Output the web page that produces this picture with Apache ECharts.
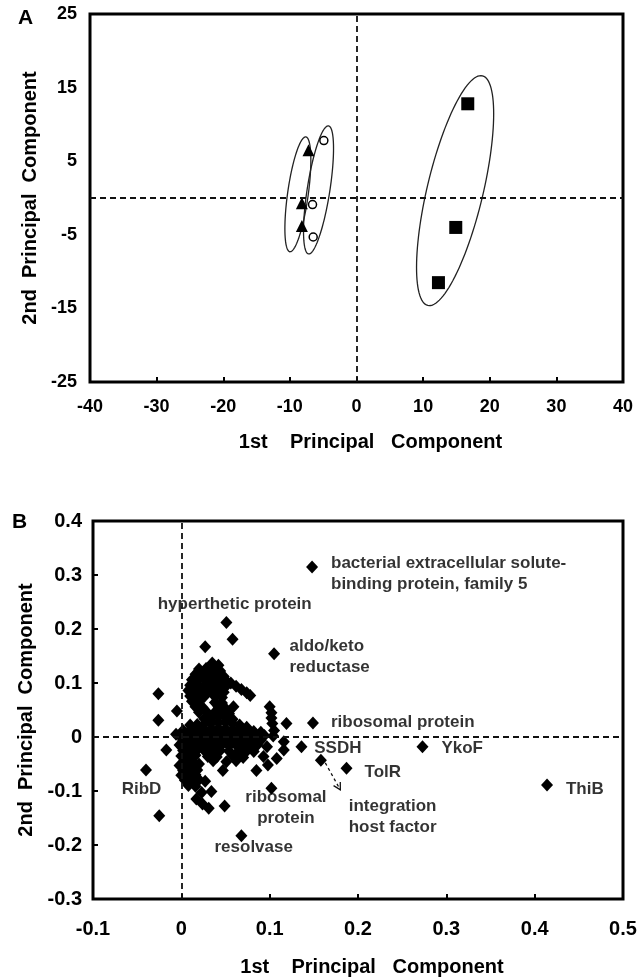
<!DOCTYPE html>
<html>
<head>
<meta charset="utf-8">
<script src="https://cdn.jsdelivr.net/npm/echarts/dist/echarts.min.js"></script>
<style>
html,body{margin:0;padding:0;background:#fff;}
#main{width:642px;height:978px;}
</style>
</head>
<body>
<div id="main"></div>
<script>
// ---- panel A : sample scores ----
var trianglesA = [[-7.2, 6.5], [-8.2, -0.7], [-8.2, -3.8]];
var circlesA   = [[-4.9, 7.8], [-6.6, -0.9], [-6.5, -5.3]];
var squaresA   = [[16.7, 12.8], [14.9, -4.0], [12.3, -11.5]];
// ellipse: centre x, centre y, top of major axis x, y, half minor axis (x units)
var ellipsesA  = [[-8.8, 0.5, -7.6, 8.3, 1.55], [-5.7, 1.1, -4.2, 9.8, 1.7], [14.8, 1.0, 18.9, 16.6, 4.2]];
var ticksA_x = [-40, -30, -20, -10, 0, 10, 20, 30, 40];
var ticksA_y = [-25, -15, -5, 5, 15, 25];

// ---- panel B : gene loadings ----
var loadingsB = [
  // isolated / labelled points
  [0.148,0.315],[0.051,0.212],[0.058,0.181],[0.027,0.167],[0.105,0.154],
  [-0.026,0.080],[-0.026,0.031],[-0.005,0.048],[-0.006,0.005],[-0.017,-0.024],[-0.040,-0.061],[-0.025,-0.146],
  [0.068,-0.183],[0.049,-0.128],[0.031,-0.132],[0.024,-0.124],[0.017,-0.115],[0.034,-0.101],[0.023,-0.103],
  [0.102,-0.095],[0.047,-0.062],[0.051,-0.046],[0.085,-0.062],
  [0.149,0.026],[0.119,0.025],[0.136,-0.018],[0.273,-0.018],[0.187,-0.058],[0.158,-0.043],[0.414,-0.089],
  [0.100,0.056],[0.102,0.045],[0.102,0.035],[0.103,0.025],[0.105,0.012],[0.104,0.002],[0.116,-0.009],
  [0.116,-0.024],[0.097,-0.018],[0.093,-0.036],[0.108,-0.040],[0.098,-0.052],
  [0.056,0.100],[0.062,0.094],[0.068,0.088],[0.074,0.082],[0.078,0.077],[0.059,0.056],
  // upper lobe
  [0.035,0.137],[0.042,0.133],
  [0.020,0.126],[0.028,0.127],[0.036,0.125],[0.044,0.122],
  [0.016,0.116],[0.024,0.117],[0.032,0.115],[0.040,0.114],[0.048,0.112],
  [0.012,0.106],[0.020,0.107],[0.028,0.105],[0.036,0.105],[0.044,0.104],[0.052,0.102],
  [0.010,0.096],[0.018,0.097],[0.026,0.095],[0.034,0.096],[0.042,0.094],[0.050,0.093],
  [0.008,0.086],[0.016,0.087],[0.024,0.085],[0.032,0.086],[0.040,0.085],[0.048,0.083],
  [0.010,0.076],[0.018,0.077],[0.026,0.075],[0.038,0.075],[0.046,0.073],
  [0.012,0.066],[0.020,0.067],[0.038,0.064],[0.046,0.063],
  [0.016,0.056],[0.024,0.055],[0.042,0.056],[0.050,0.053],
  [0.020,0.046],[0.030,0.044],[0.038,0.046],[0.046,0.045],[0.054,0.043],
  // main band
  [0.026,0.034],[0.034,0.036],[0.042,0.039],[0.050,0.037],[0.058,0.033],
  [0.010,0.022],[0.018,0.023],[0.026,0.024],[0.034,0.026],[0.042,0.028],[0.050,0.027],[0.058,0.025],[0.066,0.022],[0.074,0.018],
  [0.002,0.012],[0.010,0.013],[0.018,0.014],[0.026,0.013],[0.034,0.015],[0.042,0.016],[0.050,0.015],[0.058,0.014],
  [0.066,0.013],[0.074,0.012],[0.082,0.010],[0.090,0.009],
  [-0.002,0.003],[0.006,0.004],[0.014,0.003],[0.022,0.005],[0.030,0.004],[0.038,0.005],[0.046,0.006],[0.054,0.004],
  [0.062,0.005],[0.070,0.003],[0.078,0.004],[0.086,0.002],[0.094,0.003],
  [0.002,-0.006],[0.010,-0.005],[0.018,-0.007],[0.026,-0.006],[0.034,-0.005],[0.042,-0.007],[0.050,-0.006],
  [0.058,-0.005],[0.066,-0.007],[0.074,-0.006],[0.082,-0.008],[0.090,-0.006],
  [-0.002,-0.015],[0.006,-0.016],[0.014,-0.014],[0.022,-0.015],[0.030,-0.017],[0.038,-0.015],[0.046,-0.014],
  [0.054,-0.016],[0.062,-0.015],[0.070,-0.017],[0.078,-0.016],[0.086,-0.015],
  [0.002,-0.025],[0.010,-0.026],[0.018,-0.024],[0.026,-0.025],[0.034,-0.027],[0.044,-0.025],[0.054,-0.026],
  [0.064,-0.028],[0.074,-0.026],[0.082,-0.027],
  [0.000,-0.035],[0.008,-0.036],[0.016,-0.034],[0.030,-0.036],[0.040,-0.037],[0.058,-0.035],[0.070,-0.038],
  [0.004,-0.044],[0.012,-0.045],[0.036,-0.044],[0.062,-0.044],
  // lower-left lobe
  [-0.002,-0.053],[0.006,-0.054],[0.014,-0.052],[0.020,-0.050],
  [0.002,-0.062],[0.010,-0.063],[0.018,-0.061],
  [0.000,-0.071],[0.008,-0.072],[0.016,-0.070],
  [0.004,-0.080],[0.012,-0.081],[0.020,-0.079],[0.027,-0.082],
  [0.008,-0.090],[0.016,-0.091]
];
// annotation text and where it sits (data units)
var labelsB = [
  ['bacterial extracellular solute-\nbinding protein, family 5', 0.170, 0.302],
  ['hyperthetic protein', 0.061, 0.244],
  ['aldo/keto\nreductase', 0.123, 0.147],
  ['ribosomal protein', 0.170, 0.026],
  ['SSDH', 0.151, -0.021],
  ['YkoF', 0.295, -0.021],
  ['TolR', 0.208, -0.066],
  ['integration\nhost factor', 0.190, -0.148],
  ['ribosomal\nprotein', 0.119, -0.132],
  ['resolvase', 0.0825, -0.206],
  ['RibD', -0.022, -0.098],
  ['ThiB', 0.436, -0.098]
];
var alignB = {'hyperthetic protein': 'center', 'ribosomal\nprotein': 'center', 'resolvase': 'center', 'RibD': 'right'};
var arrowB = [[0.163, -0.048, 0.180, -0.098]];
var ticksB_x = [-0.1, 0, 0.1, 0.2, 0.3, 0.4, 0.5];
var ticksB_y = [-0.3, -0.2, -0.1, 0, 0.1, 0.2, 0.3, 0.4];

var FONT = 'Liberation Sans, Arial, Helvetica, sans-serif';
var myChart = echarts.init(document.getElementById('main'));

function fmt(v){ return String(Math.round(v * 10) / 10); }

function drawEllipse(params, api){
  var c = api.coord([api.value(0), api.value(1)]);
  var t = api.coord([api.value(2), api.value(3)]);
  var b = api.size([api.value(4), 0])[0];
  var ux = t[0] - c[0], uy = t[1] - c[1];
  var a = Math.sqrt(ux * ux + uy * uy);
  ux /= a; uy /= a;
  var vx = -uy, vy = ux;
  var pts = [];
  for (var i = 0; i < 120; i++){
    var th = i / 120 * 2 * Math.PI;
    pts.push([c[0] + a * Math.cos(th) * ux + b * Math.sin(th) * vx,
              c[1] + a * Math.cos(th) * uy + b * Math.sin(th) * vy]);
  }
  return {type: 'polygon', shape: {points: pts}, style: {fill: 'none', stroke: '#222', lineWidth: 1.3}};
}

function drawArrow(params, api){
  var p0 = api.coord([api.value(0), api.value(1)]);
  var p1 = api.coord([api.value(2), api.value(3)]);
  var ang = Math.atan2(p1[1] - p0[1], p1[0] - p0[0]);
  var h = 8, w = 0.5;
  var l = [p1[0] - h * Math.cos(ang - w), p1[1] - h * Math.sin(ang - w)];
  var r = [p1[0] - h * Math.cos(ang + w), p1[1] - h * Math.sin(ang + w)];
  return {type: 'group', children: [
    {type: 'line', shape: {x1: p0[0], y1: p0[1], x2: p1[0], y2: p1[1]},
     style: {stroke: '#111', lineWidth: 1.3, lineDash: [3, 3]}},
    {type: 'polyline', shape: {points: [l, p1, r]}, style: {stroke: '#111', lineWidth: 1.3, fill: null}}
  ]};
}

function axisX(idx, ticks, size, gap){
  return {
    type: 'value', gridIndex: idx, min: ticks[0], max: ticks[ticks.length - 1],
    interval: ticks[1] - ticks[0],
    name: '1st    Principal   Component', nameLocation: 'middle', nameGap: gap,
    nameTextStyle: {fontFamily: FONT, fontWeight: 'bold', fontSize: 20, color: '#000', padding: [0, 0, 0, 28]},
    axisLine: {show: false, onZero: false},
    axisTick: {show: true, inside: true, length: 5, lineStyle: {color: '#000', width: 2}},
    axisLabel: {fontFamily: FONT, fontWeight: 'bold', fontSize: size, color: '#000', margin: idx ? 20 : 16, formatter: fmt},
    splitLine: {show: false}
  };
}
function axisY(idx, ticks, size, ticksOn){
  return {
    type: 'value', gridIndex: idx, min: ticks[0], max: ticks[ticks.length - 1],
    interval: ticks[1] - ticks[0],
    name: '2nd  Principal  Component', nameLocation: 'middle', nameGap: 47,
    nameTextStyle: {fontFamily: FONT, fontWeight: 'bold', fontSize: 20, color: '#000'},
    axisLine: {show: false, onZero: false},
    axisTick: {show: ticksOn, inside: true, length: 5, lineStyle: {color: '#000', width: 2}},
    axisLabel: {fontFamily: FONT, fontWeight: 'bold', fontSize: size, color: '#000', margin: idx ? 11 : 13, formatter: fmt},
    splitLine: {show: false}
  };
}

var zeroLines = {
  silent: true, symbol: 'none', label: {show: false},
  lineStyle: {color: '#111', type: [6, 4], width: 1.8},
  data: [{xAxis: 0}, {yAxis: 0}]
};

var option = {
  animation: false,
  backgroundColor: '#fff',
  grid: [
    {left: 90, top: 14, width: 533, height: 368, show: true, borderColor: '#000', borderWidth: 3},
    {left: 93, top: 521, width: 530, height: 378, show: true, borderColor: '#000', borderWidth: 3}
  ],
  xAxis: [axisX(0, ticksA_x, 18, 50), axisX(1, ticksB_x, 20, 58)],
  yAxis: [axisY(0, ticksA_y, 18, false), axisY(1, ticksB_y, 20, true)],
  graphic: [
    {type: 'text', left: 18, top: 8, style: {text: 'A', font: 'bold 21px ' + FONT, fill: '#000'}},
    {type: 'text', left: 12, top: 512, style: {text: 'B', font: 'bold 21px ' + FONT, fill: '#000'}}
  ],
  series: [
    {type: 'custom', xAxisIndex: 0, yAxisIndex: 0, renderItem: drawEllipse, data: ellipsesA, z: 1, silent: true},
    {type: 'scatter', xAxisIndex: 0, yAxisIndex: 0, data: trianglesA, symbol: 'triangle', symbolSize: 12,
     itemStyle: {color: '#000', opacity: 1}, markLine: zeroLines, z: 3},
    {type: 'scatter', xAxisIndex: 0, yAxisIndex: 0, data: circlesA, symbol: 'circle', symbolSize: 8,
     itemStyle: {color: '#fff', borderColor: '#000', borderWidth: 1.5, opacity: 1}, z: 3},
    {type: 'scatter', xAxisIndex: 0, yAxisIndex: 0, data: squaresA, symbol: 'rect', symbolSize: 13,
     itemStyle: {color: '#000', opacity: 1}, z: 3},

    {type: 'scatter', xAxisIndex: 1, yAxisIndex: 1, data: loadingsB, symbol: 'diamond', symbolSize: [12, 13],
     itemStyle: {color: '#000', opacity: 1}, markLine: zeroLines, z: 3},
    {type: 'scatter', xAxisIndex: 1, yAxisIndex: 1, symbol: 'circle', symbolSize: 1,
     itemStyle: {color: 'transparent'}, z: 4, silent: true,
     data: labelsB.map(function(d){
       return {value: [d[1], d[2]], name: d[0],
               label: {align: alignB[d[0]] || 'left'}};
     }),
     label: {show: true, position: [0, 0], verticalAlign: 'middle', formatter: '{b}',
             fontFamily: FONT, fontWeight: 'bold', fontSize: 17, lineHeight: 21, color: '#000'}},
    {type: 'custom', xAxisIndex: 1, yAxisIndex: 1, renderItem: drawArrow, data: arrowB, z: 2, silent: true}
  ]
};
myChart.setOption(option);
</script>
</body>
</html>
